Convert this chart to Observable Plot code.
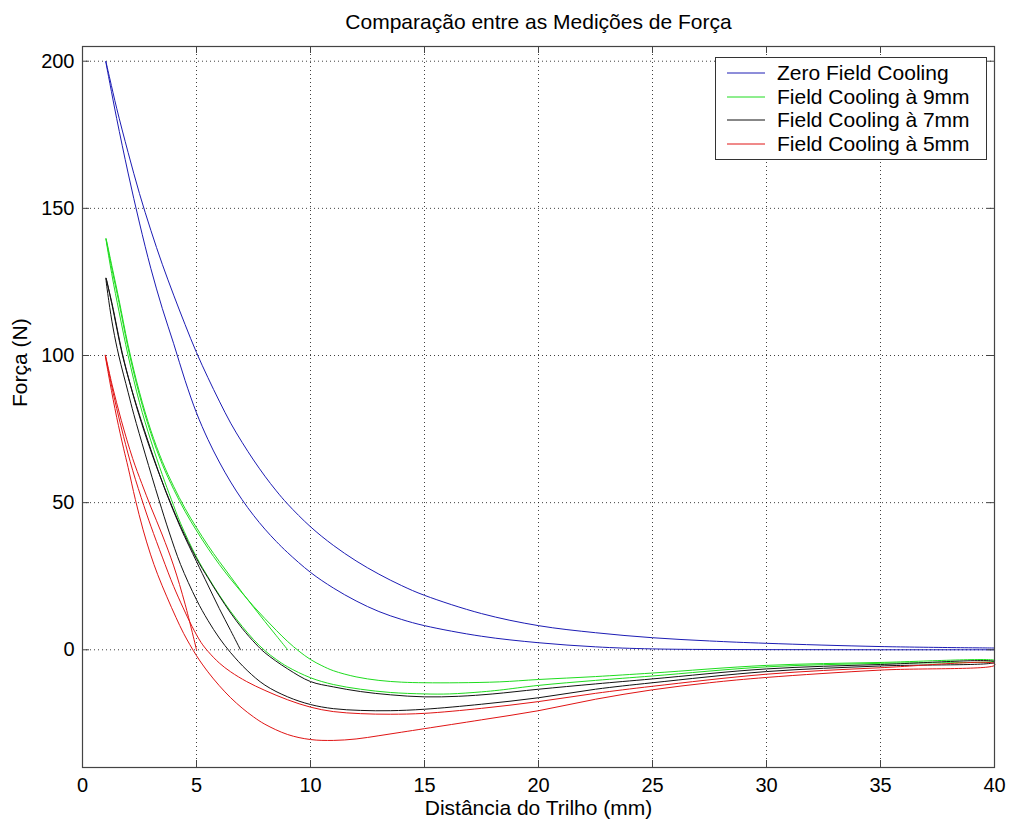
<!DOCTYPE html>
<html>
<head>
<meta charset="utf-8">
<script src="https://cdn.jsdelivr.net/npm/d3@7"></script>
<script src="https://cdn.jsdelivr.net/npm/@observablehq/plot@0.6"></script>
<style>
  html, body { margin: 0; padding: 0; background: #fff; }
  #wrap { position: relative; width: 1009px; height: 823px; font-family: 'Liberation Sans', Arial, sans-serif; }
  #legend { position: absolute; left: 715px; top: 57px; width: 272px; height: 103px; box-sizing: border-box;
            border: 1px solid #333; background: #fff; padding-top: 3px; }
  .row { position: relative; height: 23.5px; line-height: 23.5px; font-size: 21px; color: #000; white-space: nowrap; }
  .row svg { position: absolute; left: 11px; top: 11px; }
  .row span { position: absolute; left: 61px; top: 0; }
</style>
</head>
<body>
<div id="wrap"><div id="chart"></div><div id="legend"></div></div>
<script>
// ---- text ----
const title = "Comparação entre as Medições de Força";
const xLabel = "Distância do Trilho (mm)";
const yLabel = "Força (N)";
const xTicks = [0, 5, 10, 15, 20, 25, 30, 35, 40];
const yTicks = [0, 50, 100, 150, 200];
const seriesNames = ["Zero Field Cooling", "Field Cooling à 9mm", "Field Cooling à 7mm", "Field Cooling à 5mm"];
const seriesColors = ["#1c1cb4", "#1fdc1f", "#111111", "#e01414"];

// ---- Zero Field Cooling: two branches [distance mm, force N] ----
const zfcUpper = [[1.02,200],[1.2,194],[1.5,184],[2.0,169],[2.5,155],[3.0,142.5],[3.5,131],[4.0,120.5],[4.5,110.5],[5.0,101],[5.5,92.5],[6.0,84.5],[6.5,77],[7.0,70.5],[7.5,64.5],[8.0,59],[8.5,54],[9.0,49.5],[10,41.8],[11,35.5],[12,30.2],[13,25.7],[14,21.8],[15,18.5],[17.5,12.3],[20,8.2],[22.5,5.8],[25,4.1],[27.5,3.0],[30,2.2],[35,1.1],[40,0.6]];
const zfcLower = [[1.02,200],[1.2,192.5],[1.5,180.5],[2.0,162],[2.5,145],[3.0,129.5],[3.5,116],[4.0,104],[4.5,91.5],[5.0,80.5],[5.5,71.5],[6.0,63.8],[6.5,57],[7.0,51],[7.5,45.7],[8.0,41],[8.5,36.8],[9.0,33],[10,26.3],[11,21],[12,16.6],[13,13],[14,10.3],[15,8.2],[17.5,4.6],[20,2.4],[22.5,1.0],[25,0.3],[30,0.05],[35,0],[40,0]];

// ---- Field Cooling 9mm: first approach (A), retreat (B), return (C) ----
const fc9A = [[1.03,139.7],[1.3,130],[1.6,119],[2.0,103.5],[2.5,87.5],[3.0,74.5],[3.5,64],[4.0,55.5],[4.5,48],[5.0,41.5],[5.5,35.5],[6.0,30],[6.5,24.8],[7.0,19.5],[7.5,14.5],[8.0,9.6],[8.5,4.8],[9.0,0]];
const fc9B = [[1.03,139.7],[1.3,127],[1.6,115],[2.0,100],[2.5,84],[3.0,71],[3.5,59.5],[3.9,51],[4.3,43],[5.0,31.5],[5.5,24.8],[6.0,18.6],[6.5,13],[7.0,8],[7.5,3.5],[8.0,-0.3],[8.5,-3.3],[9,-5.8],[10,-9.5],[11,-11.8],[12.2,-13.4],[13.5,-14.5],[15,-15.0],[16.1,-15.0],[17.5,-14.3],[18.3,-13.7],[20,-12.1],[22.5,-10.4],[25,-8.9],[30,-5.8],[35,-4.6],[40,-3.8]];
const fc9C = [[1.03,139.7],[1.3,129],[1.6,118],[2.0,102.5],[2.5,86.5],[3.0,73.5],[3.5,63],[4.0,54.5],[4.5,47],[5.0,40.5],[5.5,34.5],[6.0,29],[6.5,24],[7.0,19.3],[7.5,14.8],[8.0,10.6],[8.5,6.6],[9.0,2.8],[9.5,-0.5],[10,-3.3],[10.5,-5.4],[11,-7.1],[12,-9.2],[13,-10.4],[14,-11.0],[15,-11.2],[16.5,-11.2],[18.3,-10.9],[20,-10.1],[22.5,-9.1],[25,-7.9],[30,-5.3],[35,-4.3],[40,-3.6]];

// ---- Field Cooling 7mm ----
const fc7A = [[1.03,126.3],[1.3,117],[1.74,100.5],[2.1,90],[2.47,80.5],[3.0,68],[3.64,54],[4.3,41.5],[5.0,30],[5.5,22],[6.0,14],[6.5,6.5],[6.93,0]];
const fc7B = [[1.03,126.3],[1.15,118.7],[1.35,109],[1.59,100],[2.0,87.5],[2.25,80],[2.75,66.5],[3.35,51],[3.8,40],[4.3,29],[5.0,17],[5.5,10],[6.0,4],[6.5,-1],[7.22,-7],[8,-12],[9,-16],[10,-18.6],[11,-20],[12.2,-20.6],[13.5,-20.7],[15,-20.2],[17.5,-18.5],[20,-16.3],[22.5,-13.4],[25,-11.2],[30,-7.4],[35,-5.5],[40,-4.3]];
const fc7C = [[1.03,126.3],[1.3,117.5],[1.74,101],[2.1,90],[2.47,80],[3.0,67.5],[3.5,57],[3.86,50],[4.3,42],[5.0,31],[5.5,24.5],[6.0,18.3],[6.5,12.5],[7.0,7.3],[7.6,2],[8.0,-1],[9,-6.5],[10,-10.8],[11,-12.6],[12.2,-14.2],[13.5,-15.3],[15,-16.0],[16.5,-15.8],[18,-15.0],[20,-13.4],[22.5,-11.6],[25,-9.9],[30,-6.5],[35,-5.0],[40,-4.0]];

// ---- Field Cooling 5mm ----
const fc5A = [[1.0,100.1],[1.3,90],[1.7,78],[2.2,65],[2.6,56.5],[3.0,48.5],[3.5,39],[4.0,28.5],[4.5,15.5],[5.0,0]];
const fc5B = [[1.0,100.1],[1.2,91],[1.5,79],[1.8,68.5],[2.0,62],[2.32,51],[2.65,41],[2.98,32.5],[3.3,25.5],[3.7,18],[4.1,11],[4.44,5.5],[5.0,-2],[5.5,-7.5],[6.0,-12.2],[6.5,-16.3],[7.0,-19.8],[7.5,-22.8],[8.0,-25.3],[9.0,-28.8],[10,-30.5],[11,-30.8],[12,-30.3],[13,-29.2],[14,-28.0],[15,-26.8],[17.5,-23.8],[20,-20.7],[22.5,-16.8],[25,-13.6],[27.5,-11.2],[30,-9.4],[35,-6.9],[40,-5.3]];
const fc5C = [[1.0,100.1],[1.2,92.5],[1.5,82],[1.8,72.5],[2.2,61],[2.69,49],[3.0,42],[3.5,31.5],[4.0,21.5],[4.4,14.5],[4.8,8],[5.2,2.5],[5.5,-0.5],[6.0,-4.5],[6.5,-7.5],[7.2,-10.8],[8,-13.8],[9,-17],[10,-19.5],[11,-21],[12.2,-21.7],[13.5,-21.9],[15,-21.6],[17.5,-19.9],[20,-17.6],[22.5,-14.8],[25,-12.4],[30,-8.3],[35,-6.1],[40,-4.7]];

// build continuous measurement paths (library table)
const rev = a => a.slice().reverse();
const toRows = pts => pts.map(([x, y]) => ({x, y}));
const paths = [
  toRows([...rev(zfcUpper), ...zfcLower.slice(1)]),
  toRows([...rev(fc9A), ...fc9B.slice(1), ...rev(fc9C)]),
  toRows([...rev(fc7A), ...fc7B.slice(1), ...rev(fc7C)]),
  toRows([...rev(fc5A), ...fc5B.slice(1), ...rev(fc5C)])
];

const W = 1009, H = 823, mL = 82, mR = 15, mT = 46, mB = 56;
const plotW = W - mL - mR, plotH = H - mT - mB;
const font = "'Liberation Sans', Arial, sans-serif";

const chart = Plot.plot({
  width: W, height: H,
  marginLeft: mL, marginRight: mR, marginTop: mT, marginBottom: mB,
  style: {fontFamily: font, fontSize: "20px", color: "#000", background: "#fff", overflow: "visible"},
  x: {domain: [0, 40], label: null},
  y: {domain: [-40, 205], label: null},
  marks: [
    Plot.gridX(xTicks, {stroke: "#000", strokeOpacity: 0.75, strokeDasharray: "1,3"}),
    Plot.gridY(yTicks, {stroke: "#000", strokeOpacity: 0.75, strokeDasharray: "1,3"}),
    ...paths.map((rows, i) => Plot.line(rows, {x: "x", y: "y", stroke: seriesColors[i], strokeWidth: 1, curve: "catmull-rom"})),
    Plot.frame({stroke: "#444", strokeWidth: 1.2}),
    Plot.tickX(xTicks, {x: d => d, insetTop: plotH - 7, stroke: "#444"}),
    Plot.tickX(xTicks, {x: d => d, insetBottom: plotH - 7, stroke: "#444"}),
    Plot.tickY(yTicks, {y: d => d, insetRight: plotW - 7, stroke: "#444"}),
    Plot.tickY(yTicks, {y: d => d, insetLeft: plotW - 7, stroke: "#444"}),
    Plot.axisX(xTicks, {tickSize: 0, tickPadding: 10, fontSize: 20, label: null}),
    Plot.axisY(yTicks, {tickSize: 0, tickPadding: 8, fontSize: 20, label: null}),
    Plot.text([title], {frameAnchor: "top", lineAnchor: "middle", dy: -24, fontSize: 21, fill: "#000"}),
    Plot.text([xLabel], {frameAnchor: "bottom", lineAnchor: "middle", dy: 41, fontSize: 21, fill: "#000"}),
    Plot.text([yLabel], {frameAnchor: "left", lineAnchor: "middle", dx: -62, rotate: -90, fontSize: 21, fill: "#000"})
  ]
});
document.getElementById("chart").appendChild(chart);

// legend
const legend = document.getElementById("legend");
seriesNames.forEach((name, i) => {
  const row = document.createElement("div");
  row.className = "row";
  row.innerHTML = `<svg width="40" height="2"><line x1="0" y1="1" x2="38" y2="1" stroke="${seriesColors[i]}" stroke-width="1"/></svg><span>${name}</span>`;
  legend.appendChild(row);
});
</script>
</body>
</html>
